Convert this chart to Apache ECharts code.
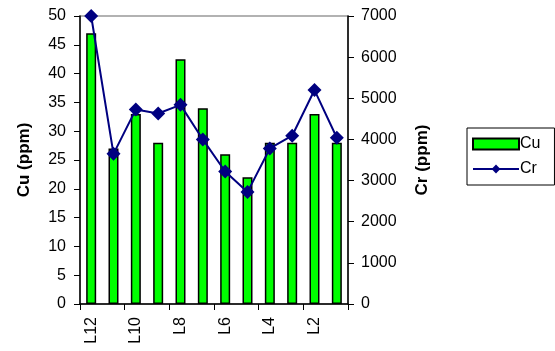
<!DOCTYPE html>
<html>
<head>
<meta charset="utf-8">
<script src="https://cdn.jsdelivr.net/npm/echarts@6/dist/echarts.min.js"></script>
<style>
html, body { margin: 0; padding: 0; background: #fff; }
#mychart { width: 555px; height: 351px; }
</style>
</head>
<body>
<div id="mychart"></div>
<script>
"use strict";
const categories = ['L12', 'L11', 'L10', 'L9', 'L8', 'L7', 'L6', 'L5', 'L4', 'L3', 'L2', 'L1'];
const cuValues = [47, 27, 33, 28, 42.5, 34, 26, 22, 28, 28, 33, 28];
const crValues = [7000, 3650, 4730, 4630, 4840, 4000, 3220, 2720, 3780, 4090, 5200, 4040];

const font = 'Liberation Sans, Arial, sans-serif';
const container = document.getElementById('mychart');
const myChart = echarts.init(container);
const option = {
    animation: false,
    textStyle: { fontFamily: font },
    grid: {
        left: 80,
        right: 207,
        top: 16,
        bottom: 47,
        show: true,
        borderColor: '#999',
        borderWidth: 1.5
    },
    legend: {
        orient: 'vertical',
        left: 467,
        top: 128,
        padding: [8, 14, 8, 5],
        itemGap: 9,
        itemWidth: 46,
        itemHeight: 11,
        borderColor: '#000',
        borderWidth: 1,
        textStyle: { fontFamily: font, fontSize: 16, color: '#000', padding: [0, 0, 0, -4] },
        data: [
            { name: 'Cu', icon: 'rect' },
            { name: 'Cr' }
        ]
    },
    xAxis: {
        type: 'category',
        data: categories,
        axisLine: { lineStyle: { color: '#000', width: 1.5 } },
        axisTick: { show: true, length: 6, lineStyle: { color: '#000' } },
        axisLabel: {
            interval: 1,
            rotate: 90,
            color: '#000',
            fontSize: 16,
            fontFamily: font,
            margin: 13
        }
    },
    yAxis: [
        {
            type: 'value',
            min: 0,
            max: 50,
            interval: 5,
            name: 'Cu (ppm)',
            nameLocation: 'middle',
            nameGap: 47,
            nameRotate: 90,
            nameTextStyle: { fontFamily: font, fontSize: 17, fontWeight: 'bold', color: '#000' },
            axisLine: { show: true, lineStyle: { color: '#000', width: 1.5 } },
            axisTick: { show: true, length: 6, lineStyle: { color: '#000' } },
            axisLabel: { color: '#000', fontSize: 16, fontFamily: font, margin: 14 },
            splitLine: { show: false }
        },
        {
            type: 'value',
            min: 0,
            max: 7000,
            interval: 1000,
            position: 'right',
            name: 'Cr (ppm)',
            nameLocation: 'middle',
            nameGap: 66,
            nameRotate: 90,
            nameTextStyle: { fontFamily: font, fontSize: 17, fontWeight: 'bold', color: '#000' },
            axisLine: { show: true, lineStyle: { color: '#000', width: 1.5 } },
            axisTick: { show: true, length: 6, lineStyle: { color: '#000' } },
            axisLabel: {
                color: '#000',
                fontSize: 16,
                fontFamily: font,
                margin: 13,
                formatter: v => String(v)
            },
            splitLine: { show: false }
        }
    ],
    series: [
        {
            name: 'Cu',
            type: 'bar',
            yAxisIndex: 0,
            data: cuValues,
            barWidth: 10,
            itemStyle: { color: '#00ff00', borderColor: '#000', borderWidth: 1.5 }
        },
        {
            name: 'Cr',
            type: 'line',
            yAxisIndex: 1,
            data: crValues,
            symbol: 'diamond',
            symbolSize: 14,
            lineStyle: { color: '#000080', width: 2 },
            itemStyle: { color: '#000080' }
        }
    ]
};
myChart.setOption(option);
</script>
</body>
</html>
